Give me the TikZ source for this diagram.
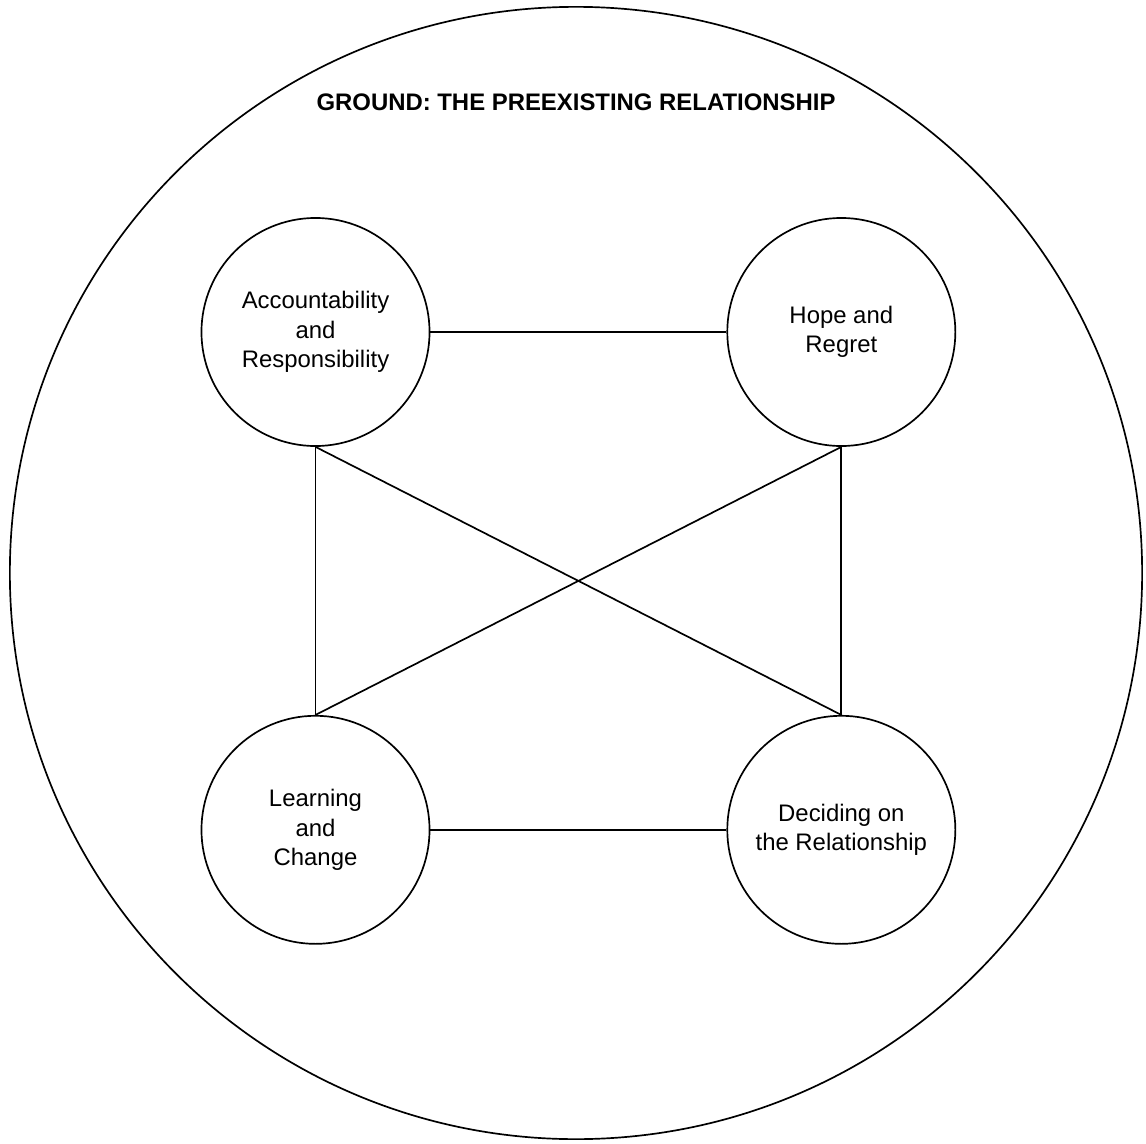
\documentclass[tikz,border=0pt]{standalone}
\usepackage{fontspec}
\setmainfont{Liberation Sans}
\usetikzlibrary{positioning}

\begin{document}
\begin{tikzpicture}[x=0.025cm, y=-0.025cm,
    node distance=6.7cm and 7.4cm,
    topic/.style={circle, draw, line width=1.2pt,
                  minimum size=5.7cm, inner sep=0pt,
                  align=center, font=\fontsize{17}{21}\selectfont},
    ground/.style={circle, draw, line width=1.2pt,
                   minimum size=28.3cm, inner sep=0pt},
    gtitle/.style={font=\fontsize{17}{21}\selectfont\bfseries},
    link/.style={line width=1.2pt}
  ]
  \useasboundingbox (0,0) rectangle (1146,1144);

  \node[ground] (ground) at (576,573) {};
  \node[gtitle] (title) at (576,102) {GROUND: THE PREEXISTING RELATIONSHIP};

  \node[topic] (acc) at (315.5,332) {Accountability\\and\\Responsibility};
  \node[topic, right=of acc] (hope) {Hope and\\Regret};
  \node[topic, below=of acc] (learn) {Learning\\and\\Change};
  \node[topic, below=of hope] (decide) {Deciding on\\the Relationship};

  % Verbindungen
  \draw[link] (acc) -- (hope);
  \draw[link] (learn) -- (decide);
  \draw[link] (acc.south) -- (learn.north);
  \draw[link] (hope.south) -- (decide.north);
  \draw[link] (acc.south) -- (decide.north);
  \draw[link] (hope.south) -- (learn.north);
\end{tikzpicture}
\end{document}
